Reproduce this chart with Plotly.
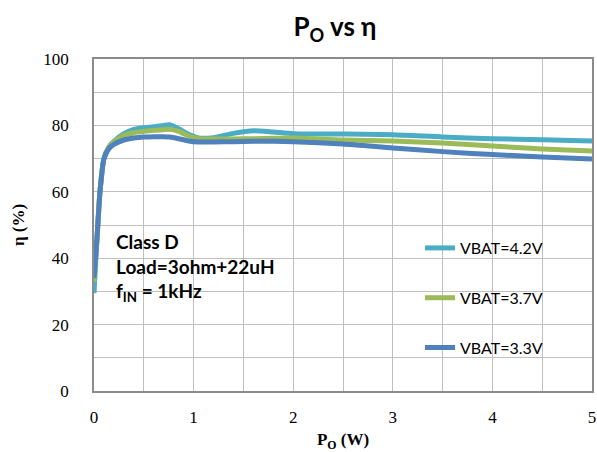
import plotly.graph_objects as go

# Data
po_w = [0, 0.03, 0.06, 0.1, 0.15, 0.2, 0.3, 0.4, 0.5, 0.6, 0.7, 0.76, 0.85, 0.95, 1.05,
        1.2, 1.4, 1.6, 1.8, 2.0, 2.5, 3.0, 3.5, 4.0, 4.5, 5.0]
eff_42 = [29.5, 46, 60, 70, 73.5, 75.2, 77.5, 78.8, 79.3, 79.6, 80.0, 80.2, 79.0, 77.3, 76.2,
          76.3, 77.6, 78.4, 78.0, 77.5, 77.4, 77.2, 76.5, 76.0, 75.7, 75.3]
eff_37 = [33, 46, 60, 70, 73.5, 75.0, 77.0, 77.8, 78.2, 78.5, 78.7, 78.8, 78.2, 76.8, 76.0,
          75.9, 75.9, 76.0, 76.1, 76.2, 75.6, 75.3, 74.7, 73.8, 72.9, 72.3]
eff_33 = [34, 46, 60, 70, 73.0, 74.3, 75.6, 76.2, 76.5, 76.6, 76.6, 76.5, 76.0, 75.3, 75.0,
          75.0, 75.1, 75.2, 75.2, 75.1, 74.4, 73.2, 72.1, 71.2, 70.5, 69.9]
series_names = ["VBAT=4.2V", "VBAT=3.7V", "VBAT=3.3V"]
series_vals = [eff_42, eff_37, eff_33]
series_colors = ["#4BACC6", "#9BBB59", "#4F81BD"]
x_ticks = [0, 1, 2, 3, 4, 5]
y_ticks = [0, 20, 40, 60, 80, 100]

fig = go.Figure()
for i, (name, vals, col) in enumerate(zip(series_names, series_vals, series_colors)):
    fig.add_trace(go.Scatter(
        x=po_w, y=vals, name=name, mode="lines",
        line=dict(color=col, width=5, shape="spline", smoothing=0.6),
        legendgroup=f"g{i}",
    ))

serif = "Liberation Serif, Times New Roman, serif"
sans = "Lato, Carlito, Calibri, sans-serif"

fig.update_layout(
    width=597, height=452,
    margin=dict(l=94, r=5, t=59, b=61),
    paper_bgcolor="white", plot_bgcolor="white",
    title=dict(text="<b>P<sub>O</sub> vs η</b>", x=(335 / 597), xanchor="center",
               y=1 - 27 / 452, yanchor="middle", yref="container",
               font=dict(family=sans, size=26, color="black")),
    showlegend=True,
    legend=dict(x=(420 - 94) / 498, xanchor="left", y=(391 - 231) / 332, yanchor="top",
                bgcolor="rgba(0,0,0,0)", font=dict(family=sans, size=16, color="black"),
                tracegroupgap=26, traceorder="grouped"),
    xaxis=dict(range=[0, 5], tickvals=x_ticks, automargin=False,
               showgrid=True, gridcolor="#BFBFBF", gridwidth=1.3,
               showline=True, linecolor="#8C8C8C", linewidth=1.5, mirror=True,
               ticks="", ticklabelstandoff=10, zeroline=False,
               tickfont=dict(family=serif, size=17, color="black"),
               title=dict(text="<b>P<sub>O</sub> (W)</b>", standoff=8,
                          font=dict(family=serif, size=17, color="black"))),
    yaxis=dict(range=[0, 100], tickvals=y_ticks, showgrid=True, automargin=False,
               gridcolor="#BFBFBF", gridwidth=1.3,
               showline=True, linecolor="#8C8C8C", linewidth=1.5, mirror=True,
               ticks="", ticklabelstandoff=20, zeroline=False,
               tickfont=dict(family=serif, size=17, color="black"),
               title=dict(text="<b>η (%)</b>", standoff=14,
                          font=dict(family=serif, size=17, color="black"))),
)

# minor gridlines every 0.5 W and every 10 %
fig.update_xaxes(minor=dict(dtick=0.5, showgrid=True, gridcolor="#BFBFBF", gridwidth=1.3))
fig.update_yaxes(minor=dict(dtick=10, showgrid=True, gridcolor="#BFBFBF", gridwidth=1.3))

fig.add_annotation(
    text="<b>Class D<br>Load=3ohm+22uH<br>f<sub>IN</sub> = 1kHz</b>",
    xref="paper", yref="paper", x=(114 - 94) / 498, y=(391 - 228) / 332,
    xanchor="left", yanchor="top", align="left", showarrow=False,
    font=dict(family=sans, size=19, color="black"),
)

fig.write_html("out.html")
